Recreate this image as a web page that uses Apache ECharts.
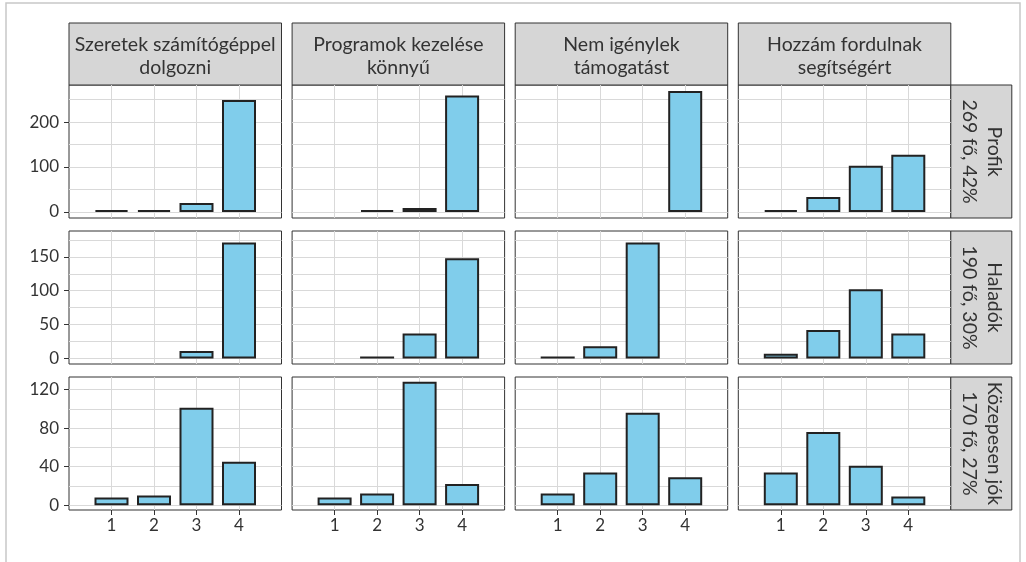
<!DOCTYPE html>
<html>
<head>
<meta charset="utf-8">
<script src="https://cdn.jsdelivr.net/npm/echarts@6/dist/echarts.min.js"></script>
<style>
  html, body { margin: 0; padding: 0; background: #fff; }
  #chart { width: 1026px; height: 562px; }
</style>
</head>
<body>
<div id="chart"></div>
<script>
// oszlopok (kérdések) és sorok (csoportok)
const questions = ['Szeretek számítógéppel\ndolgozni', 'Programok kezelése\nkönnyű', 'Nem igénylek\ntámogatást', 'Hozzám fordulnak\nsegítségért']
const groups = ['Profik\n269 fő, 42%', 'Haladók\n190 fő, 30%', 'Közepesen jók\n170 fő, 27%']
const answers = [1, 2, 3, 4]

// válaszok száma, kérdésenként egy sor
const profik = [
  [4, 4, 20, 249],
  [0, 4, 9, 259],
  [0, 0, 0, 269],
  [4, 33, 103, 127]
]
const haladok = [
  [0, 0, 11, 171],
  [0, 3, 37, 148],
  [3, 18, 171, 0],
  [7, 42, 102, 37]
]
const kozepes = [
  [8, 10, 101, 45],
  [8, 12, 128, 22],
  [12, 34, 96, 29],
  [34, 76, 41, 9]
]
const counts = [profik, haladok, kozepes]

// y tengely tartomány, feliratok és rácsvonalak soronként
const yLimits = [[-13.5, 282.5], [-8, 188], [-5, 133]]
const yTicks = [[0, 100, 200], [0, 50, 100, 150], [0, 40, 80, 120]]
const yGrid = [
  [0, 50, 100, 150, 200, 250],
  [0, 25, 50, 75, 100, 125, 150, 175],
  [0, 20, 40, 60, 80, 100, 120]
]

// elrendezés
const left0 = 69, panelW = 212.5, gapX = 10.6
const rowTop = [85, 231, 377], panelH = 133
const stripTop = 23, stripH = 62
const sideX = left0 + 4 * panelW + 3 * gapX, sideW = 61
const font = 'Lato'
const gridColor = '#d9d9d9'
const textColor = '#333'

let grids = [], xAxes = [], yAxes = [], series = [], graphics = []

counts.forEach((rowData, r) => {
  const [yMin, yMax] = yLimits[r]
  const bottomRow = r === counts.length - 1
  rowData.forEach((vals, c) => {
    const k = grids.length
    grids.push({
      left: left0 + c * (panelW + gapX), top: rowTop[r], width: panelW, height: panelH,
      containLabel: false, outerBoundsMode: 'none',
      show: true, backgroundColor: '#fff', borderColor: '#333', borderWidth: 1
    })
    xAxes.push({
      gridIndex: k, type: 'value', min: 0, max: 5, position: 'bottom',
      axisLine: { show: false, onZero: false },
      axisTick: { show: bottomRow, customValues: answers, length: 5, lineStyle: { color: '#333' } },
      axisLabel: { show: bottomRow, customValues: answers, margin: 7, fontSize: 17, color: textColor, fontFamily: font },
      splitLine: { show: true, lineStyle: { color: gridColor, width: 1 } }
    })
    // rácsvonalak
    yAxes.push({
      gridIndex: k, type: 'value', min: yMin, max: yMax, position: 'left',
      axisLine: { show: false, onZero: false },
      axisTick: { show: false, customValues: yGrid[r] },
      axisLabel: { show: false, customValues: yGrid[r] },
      splitLine: { show: true, lineStyle: { color: gridColor, width: 1 } }
    })
    // feliratok csak a bal oszlopban
    yAxes.push({
      gridIndex: k, type: 'value', min: yMin, max: yMax, position: 'left',
      axisLine: { show: false, onZero: false },
      axisTick: { show: c === 0, customValues: yTicks[r], length: 5, lineStyle: { color: '#333' } },
      axisLabel: { show: c === 0, customValues: yTicks[r], margin: 10, fontSize: 17, color: textColor, fontFamily: font },
      splitLine: { show: false }
    })
    series.push({
      type: 'bar', xAxisIndex: k, yAxisIndex: 2 * k, barWidth: 34,
      data: vals.map((v, i) => [answers[i], v]).filter(d => d[1] > 0),
      itemStyle: { color: '#80cdeb', borderColor: '#222', borderWidth: 2 },
      emphasis: { disabled: true }
    })
  })
})

// felső címkék
questions.forEach((q, c) => {
  const x = left0 + c * (panelW + gapX)
  graphics.push({ type: 'rect', shape: { x: x, y: stripTop, width: panelW, height: stripH },
    style: { fill: '#d6d6d6', stroke: '#333', lineWidth: 1 } })
  graphics.push({ type: 'text', x: x + panelW / 2, y: stripTop + stripH / 2 + 2,
    style: { text: q, align: 'center', verticalAlign: 'middle', fontSize: 19.5, lineHeight: 23, fontFamily: font, fill: textColor } })
})
// jobb oldali címkék
groups.forEach((g, r) => {
  graphics.push({ type: 'rect', shape: { x: sideX, y: rowTop[r], width: sideW, height: panelH },
    style: { fill: '#d6d6d6', stroke: '#333', lineWidth: 1 } })
  graphics.push({ type: 'text', x: sideX + sideW / 2, y: rowTop[r] + panelH / 2, rotation: -Math.PI / 2,
    style: { text: g, align: 'center', verticalAlign: 'middle', fontSize: 19.5, lineHeight: 25, fontFamily: font, fill: textColor } })
})
// külső keret
graphics.push({ type: 'rect', z: -1, shape: { x: 6, y: 3, width: 1014, height: 620 },
  style: { fill: 'transparent', stroke: '#c8c8c8', lineWidth: 1.5 } })

let myChart = echarts.init(document.getElementById('chart'))
myChart.setOption({
  animation: false,
  backgroundColor: '#fff',
  grid: grids,
  xAxis: xAxes,
  yAxis: yAxes,
  series: series,
  graphic: graphics
})
</script>
</body>
</html>
